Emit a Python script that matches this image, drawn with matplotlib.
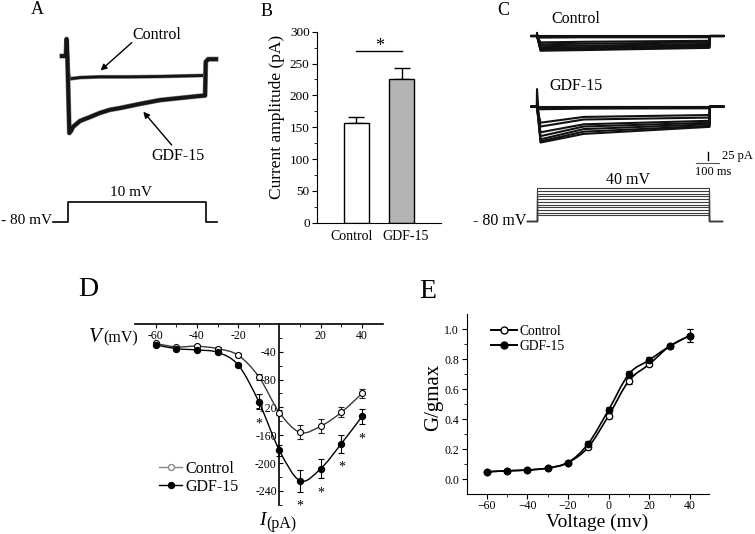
import numpy as np
import matplotlib
matplotlib.use("Agg")
import matplotlib.pyplot as plt
from matplotlib.path import Path
from matplotlib.patches import PathPatch, FancyArrowPatch
from matplotlib.lines import Line2D
from matplotlib.ticker import MultipleLocator, FixedLocator

# ---------------- data ----------------
# Panel A: representative whole-cell currents (time in ms, current in pA)
a_ctrl_t = [-26, -9, -6, -2, 2, 9, 17, 52, 137, 266, 395, 523, 588, 591, 601, 635]
a_ctrl_i = [-3, -3, 46, -14, -55, -69, -68, -65, -63, -63, -62, -60, -59, -20, -12, -12]
a_gdf_t = [-26, -9, -6, -2, 6, 13, 22, 52, 94, 137, 180, 223, 309, 395, 480, 566, 588, 591, 601, 635]
a_gdf_i = [-3, -3, 46, -14, -225, -219, -207, -190, -179, -167, -158, -153, -141, -130, -124, -118, -117, -20, -12, -12]
a_prot_t = [-64, 0, 0, 590, 590, 638]
a_prot_v = [-80, -80, 10, 10, -80, -80]

# Panel B: current amplitude
b_groups = ["Control", "GDF-15"]
b_mean = [156, 226]
b_sem = [10.5, 16.5]
b_sig_level = 270

# Panel C: current families (pA) at the knots of each sweep
c_knots_t = [-23, -1, 0, 15, 200, 740, 742, 799]
c_steps_mv = [-60, -50, -40, -30, -20, -10, 0, 10, 20, 30, 40]
c_ctrl_spike = [0, 0, 0, 0, 0, 0, 0, 0, 0, 0, 10]
c_ctrl_peak = [0, 1, 2, 5, 20, 26, 32, 37, 41, 44, 46]
c_ctrl_mid = [0, 1, 2, 4, 18, 24, 30, 35, 39, 42, 44]
c_ctrl_end = [0, 1, 2, 4, 15, 20, 25, 29, 32, 35, 37]
c_gdf_spike = [0, 0, 0, 0, 0, 0, 0, 0, 0, 0, 55]
c_gdf_peak = [0, 2, 4, 8, 50, 62, 80, 92, 102, 108, 112]
c_gdf_mid = [0, 1, 3, 6, 32, 40, 55, 62, 70, 78, 85]
c_gdf_end = [0, 1, 3, 5, 26, 34, 44, 50, 55, 60, 63]
c_prot_t = [-44, 0, 0, 740, 740, 792]

# Panel D: I-V relationship
d_v = [-60, -50, -40, -30, -20, -10, 0, 10, 20, 30, 40]
d_ctrl = [-28, -33, -32, -35.5, -45, -76, -127.6, -156, -147, -127, -100]
d_ctrl_err = [2, 2, 2, 2, 3, 4, 4, 10, 10, 7, 7]
d_gdf = [-30, -35.5, -37.4, -40.8, -59, -112, -182, -225.5, -208, -172, -133]
d_gdf_err = [2, 2, 2, 2, 3, 11, 8, 16, 14, 13, 11]
d_sig = [-10, 10, 20, 30, 40]

# Panel E: activation curves
e_v = [-60, -50, -40, -30, -20, -10, 0, 10, 20, 30, 40]
e_ctrl = [0.048, 0.055, 0.060, 0.073, 0.110, 0.213, 0.424, 0.657, 0.767, 0.887, 0.958]
e_ctrl_err = [0.005, 0.005, 0.005, 0.006, 0.008, 0.012, 0.015, 0.020, 0.015, 0.012, 0.045]
e_gdf = [0.048, 0.055, 0.060, 0.073, 0.110, 0.237, 0.462, 0.702, 0.795, 0.887, 0.958]
e_gdf_err = [0.005, 0.005, 0.005, 0.006, 0.008, 0.015, 0.018, 0.022, 0.018, 0.012, 0.045]

# ---------------- figure ----------------
plt.rcParams['font.family'] = ['Liberation Serif', 'DejaVu Serif']
W, H = 755, 534
fig = plt.figure(figsize=(W / 100, H / 100), dpi=100)


def px_axes(x0, y0, x1, y1):
    return fig.add_axes([x0 / W, 1 - y1 / H, (x1 - x0) / W, (y1 - y0) / H])


def ftext(x, y, s, **kw):
    kw.setdefault('va', 'center')
    return fig.text(x / W, 1 - y / H, s, **kw)


def fpt(x, y):
    return (x / W, 1 - y / H)


def smooth_path(xs, ys):
    pts = np.column_stack([xs, ys]).astype(float)
    verts = [pts[0]]
    codes = [Path.MOVETO]
    n = len(pts)
    for i in range(n - 1):
        p0 = pts[i - 1] if i > 0 else pts[i]
        p1, p2 = pts[i], pts[i + 1]
        p3 = pts[i + 2] if i + 2 < n else pts[i + 1]
        verts += [p1 + (p2 - p0) / 6, p2 - (p3 - p1) / 6, p2]
        codes += [Path.CURVE4] * 3
    return Path(verts, codes)


def blank(ax):
    ax.set_axis_off()

# ---------------- Panel A ----------------
axA = px_axes(50, 30, 220, 140)
axA.set_xlim(-77, 652)
axA.set_ylim(-245, 72)
blank(axA)
for t, i, lw in [(a_ctrl_t, a_ctrl_i, 2.0), (a_gdf_t, a_gdf_i, 2.8)]:
    axA.plot(t, i, color='#8a8a8a', lw=lw + 0.8, solid_joinstyle='round')
    axA.plot(t, i, color='#151515', lw=lw, solid_joinstyle='round')

axAp = px_axes(50, 195, 220, 228)
axAp.set_xlim(-77, 652)
axAp.set_ylim(-108.5, 40)
blank(axAp)
axAp.plot(a_prot_t, a_prot_v, color='black', lw=1.2)

ftext(156.7, 35, "Control", ha='center', fontsize=11.5)
ftext(177.5, 156, "GDF-15", ha='center', fontsize=11.5)
ftext(52, 221, "- 80 mV", ha='right', fontsize=11)
ftext(130.8, 192, "10 mV", ha='center', fontsize=11)
arrow_kw = dict(arrowstyle='-|>', color='black', lw=1.0, mutation_scale=9, shrinkA=0, shrinkB=0)
fig.add_artist(FancyArrowPatch(fpt(131.7, 42.7), fpt(100.5, 70.5),
                               transform=fig.transFigure, **arrow_kw))
fig.add_artist(FancyArrowPatch(fpt(171.7, 145), fpt(143.3, 111.7),
                               transform=fig.transFigure, **arrow_kw))

# ---------------- Panel B ----------------
axB = px_axes(317.3, 31.7, 440.7, 222.7)
xb = np.arange(len(b_groups))
axB.bar(xb, b_mean, width=0.55, color=['white', '#b4b4b4'], edgecolor='black', lw=1.0, zorder=2)
axB.errorbar(xb, b_mean, yerr=[[0, 0], b_sem], fmt='none', ecolor='black', elinewidth=1.0,
             capsize=5.5, capthick=1.0, zorder=1)
axB.set_xlim(-0.865, 1.859)
axB.set_ylim(0, 300)
axB.spines['top'].set_visible(False)
axB.spines['right'].set_visible(False)
axB.set_xticks([-0.106, 1.093])
axB.set_xticklabels(b_groups, fontsize=10)
axB.tick_params(axis='x', length=0, pad=5)
axB.yaxis.set_major_locator(MultipleLocator(50))
axB.yaxis.set_minor_locator(MultipleLocator(25))
axB.tick_params(axis='y', which='major', direction='out', length=3.5, labelsize=9.5, pad=2)
axB.tick_params(axis='y', which='minor', direction='out', length=2)
axB.set_ylabel("Current amplitude (pA)", fontsize=12.5)
axB.yaxis.set_label_coords(-0.262, 0.555)
axB.plot([0, 1], [b_sig_level, b_sig_level], color='black', lw=1.0, clip_on=False)
axB.text(0.5, b_sig_level, "*", ha='center', va='baseline', fontsize=13)

# ---------------- Panel C ----------------
axC1 = px_axes(525, 25, 725, 60)
axC1.set_xlim(-51.5, 806.5)
axC1.set_ylim(-75, 34.4)
blank(axC1)
for sp, pk, md, en in zip(c_ctrl_spike, c_ctrl_peak, c_ctrl_mid, c_ctrl_end):
    axC1.plot(c_knots_t, [0, 0, sp, -pk, -md, -en, 0, 0], color='#111111', lw=1.5)

axC2 = px_axes(525, 80, 725, 175)
axC2.set_xlim(-51.5, 806.5)
axC2.set_ylim(-213.4, 83.4)
blank(axC2)
for sp, pk, md, en in zip(c_gdf_spike, c_gdf_peak, c_gdf_mid, c_gdf_end):
    axC2.plot(c_knots_t, [0, 0, sp, -pk, -md, -en, 0, 0], color='#111111', lw=1.5)
# scale bar: 25 pA / 100 ms
axC2.plot([735, 735], [-140.6, -165.6], color='black', lw=1.0)
axC2.plot([682, 782], [-176.9, -176.9], color='#555555', lw=0.8)

axCp = px_axes(525, 183, 725, 228)
axCp.set_xlim(-51.5, 806.5)
axCp.set_ylim(-107, 59.6)
blank(axCp)
for v in c_steps_mv:
    axCp.plot(c_prot_t, [-80, -80, v, v, -80, -80], color='#3c3c3c', lw=0.8)

ftext(551.7, 19, "Control", ha='left', fontsize=11.5)
ftext(549.3, 85.5, "GDF-15", ha='left', fontsize=11.5)
ftext(628.3, 180, "40 mV", ha='center', fontsize=11.5)
ftext(526.5, 220.5, "- 80 mV", ha='right', fontsize=11.5)
ftext(721.7, 156, "25 pA", ha='left', fontsize=9)
ftext(695, 172, "100 ms", ha='left', fontsize=9)

# ---------------- Panel D ----------------
axD = px_axes(135, 318, 382.7, 505)
axD.set_xlim(-70, 50)
axD.set_ylim(-260.4, 8.6)
for s in ['bottom', 'right']:
    axD.spines[s].set_visible(False)
axD.spines['top'].set_position(('data', 0))
axD.spines['left'].set_position(('data', 0))
axD.spines['left'].set_bounds(-260, 0)
for s in ['top', 'left']:
    axD.spines[s].set_linewidth(1.2)
axD.xaxis.set_ticks_position('top')
axD.xaxis.set_major_locator(FixedLocator([-60, -40, -20, 20, 40]))
axD.xaxis.set_minor_locator(FixedLocator([-50, -30, -10, 10, 30]))
axD.tick_params(axis='x', which='both', direction='in', labeltop=False, labelbottom=False)
axD.tick_params(axis='x', which='major', length=3)
axD.tick_params(axis='x', which='minor', length=2.5)
for v in [-60, -40, -20, 20, 40]:
    axD.annotate(f"{v}", xy=(v, 0), xytext=(0, -4.5), textcoords='offset points',
                 ha='center', va='top', fontsize=8.5)
axD.yaxis.set_major_locator(FixedLocator([-40, -80, -120, -160, -200, -240]))
axD.yaxis.set_minor_locator(FixedLocator([-20, -60, -100, -140, -180, -220, -260]))
axD.set_yticklabels([f"{v}" for v in [-40, -80, -120, -160, -200, -240]])
axD.tick_params(axis='y', which='both', direction='in', labelsize=8.5, pad=2)
axD.tick_params(axis='y', which='major', length=3)
axD.tick_params(axis='y', which='minor', length=2.5)

axD.add_patch(PathPatch(smooth_path(d_v, d_ctrl), fill=False, ec='#3a3a3a', lw=1.0, zorder=2))
axD.add_patch(PathPatch(smooth_path(d_v, d_gdf), fill=False, ec='black', lw=1.0, zorder=2))
axD.errorbar(d_v, d_ctrl, yerr=d_ctrl_err, fmt='none', ecolor='#222222', elinewidth=0.8,
             capsize=2.3, capthick=0.8, zorder=3)
axD.errorbar(d_v, d_gdf, yerr=d_gdf_err, fmt='none', ecolor='black', elinewidth=0.8,
             capsize=2.3, capthick=0.8, zorder=3)
axD.plot(d_v, d_ctrl, ls='none', marker='o', ms=4.3, mfc='white', mec='black', mew=0.8, zorder=4)
axD.plot(d_v, d_gdf, ls='none', marker='o', ms=4.3, mfc='black', mec='black', zorder=4)
for v in d_sig:
    k = d_v.index(v)
    axD.annotate("*", xy=(v, d_gdf[k] - d_gdf_err[k]), xytext=(0, -13), textcoords='offset points',
                 ha='center', va='baseline', fontsize=10)

ftext(95, 337, "V", ha='center', fontsize=15, style='italic')
ftext(103, 338.5, "(mV)", ha='left', fontsize=11.5)
ftext(262.5, 520.5, "I", ha='center', fontsize=14, style='italic')
ftext(266, 524.5, "(pA)", ha='left', fontsize=11.5)

hD = [Line2D([], [], color='#8a8a8a', lw=1.0, marker='o', ms=4.3, mfc='white', mec='#8a8a8a'),
      Line2D([], [], color='black', lw=1.0, marker='o', ms=4.3, mfc='black', mec='black')]
fig.legend(hD, ["Control", "GDF-15"], loc='center left', bbox_to_anchor=fpt(159, 478),
           frameon=False, fontsize=11.5, handlelength=1.45, handletextpad=0.2,
           labelspacing=0.12, borderpad=0, borderaxespad=0)

# ---------------- Panel E ----------------
axE = px_axes(466.7, 314.3, 709.3, 494)
axE.set_xlim(-69.8, 49.5)
axE.set_ylim(-0.1, 1.1)
axE.spines['top'].set_visible(False)
axE.spines['right'].set_visible(False)
axE.xaxis.set_major_locator(FixedLocator([-60, -40, -20, 0, 20, 40]))
axE.xaxis.set_minor_locator(FixedLocator([-50, -30, -10, 10, 30]))
axE.yaxis.set_major_locator(FixedLocator([0.0, 0.2, 0.4, 0.6, 0.8, 1.0]))
axE.yaxis.set_minor_locator(FixedLocator([0.1, 0.3, 0.5, 0.7, 0.9]))
axE.set_yticklabels(["0.0", "0.2", "0.4", "0.6", "0.8", "1.0"])
axE.tick_params(which='major', direction='out', length=3.5, labelsize=8.5, pad=2)
axE.tick_params(axis='x', which='major', pad=1)
axE.tick_params(which='minor', direction='out', length=2)
axE.add_patch(PathPatch(smooth_path(e_v, e_ctrl), fill=False, ec='black', lw=1.2, zorder=2))
axE.add_patch(PathPatch(smooth_path(e_v, e_gdf), fill=False, ec='black', lw=1.2, zorder=2))
axE.errorbar(e_v, e_ctrl, yerr=e_ctrl_err, fmt='none', ecolor='black', elinewidth=0.8,
             capsize=2, capthick=0.8, zorder=3)
axE.errorbar(e_v, e_gdf, yerr=e_gdf_err, fmt='none', ecolor='black', elinewidth=0.8,
             capsize=2, capthick=0.8, zorder=3)
axE.plot(e_v, e_ctrl, ls='none', marker='o', ms=4.6, mfc='white', mec='black', mew=0.9, zorder=4)
axE.plot(e_v, e_gdf, ls='none', marker='o', ms=4.6, mfc='black', mec='black', zorder=5)
axE.set_xlabel("Voltage (mv)", fontsize=14, va='center')
axE.xaxis.set_label_coords(0.537, -0.160)
axE.set_ylabel("G/gmax", fontsize=15)
axE.yaxis.set_label_coords(-0.098, 0.54)
hE = [Line2D([], [], color='black', lw=1.4, marker='o', ms=5, mfc='white', mec='black'),
      Line2D([], [], color='black', lw=1.4, marker='o', ms=5, mfc='black', mec='black')]
fig.legend(hE, ["Control", "GDF-15"], loc='center left', bbox_to_anchor=fpt(491.5, 339),
           frameon=False, fontsize=9.8, handlelength=1.85, handletextpad=0.2,
           labelspacing=0.12, borderpad=0, borderaxespad=0)

# ---------------- panel letters ----------------
for x, y, s, fs in [(37.5, 9.7, "A", 13), (266.3, 11.2, "B", 13), (503.3, 10.8, "C", 13),
                    (88, 289, "D", 20), (427.5, 292, "E", 20)]:
    ftext(x, y, s, ha='center', fontsize=fs)

fig.savefig("out.png", dpi=100)
